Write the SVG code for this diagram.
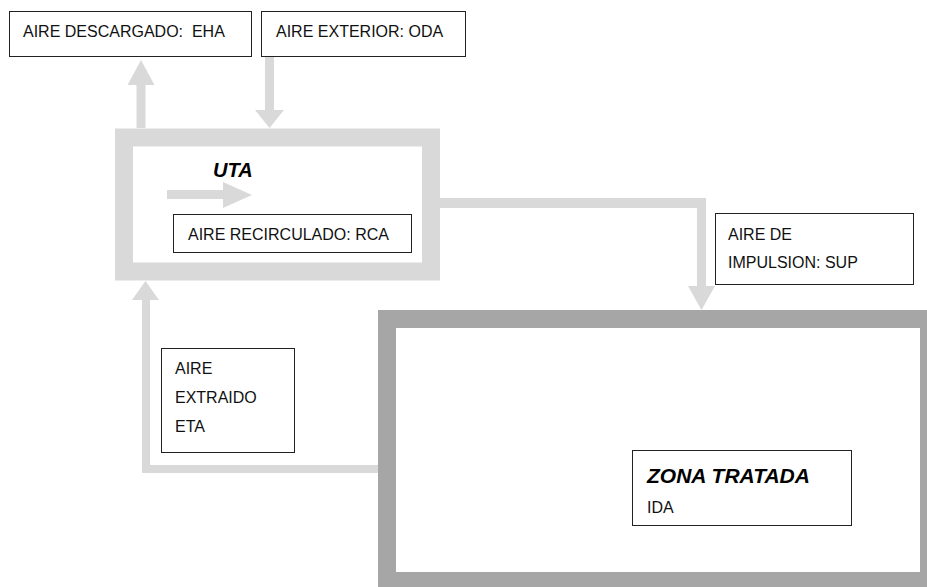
<svg xmlns="http://www.w3.org/2000/svg" width="927" height="587" viewBox="0 0 927 587">
<style>
.bg{fill:#ffffff}
.box{fill:#ffffff;stroke:#222222;stroke-width:1}
.t{font-family:"Liberation Sans",Arial,sans-serif;font-size:16px;fill:#111111;white-space:pre}
.h{font-family:"Liberation Sans",Arial,sans-serif;font-size:20px;font-weight:bold;font-style:italic;fill:#000000}
.flow{fill:#d9d9d9;stroke:none}
.uta{fill:none;stroke:#d9d9d9;stroke-width:18}
.zona{fill:none;stroke:#a6a6a6;stroke-width:18}
</style>
<rect class="bg" x="0" y="0" width="927" height="587"/>
<g id="connectors">
<polygon class="flow" points="136.5,128 136.5,85 127.5,85 141,60 154.5,85 145.5,85 145.5,128"/>
<polygon class="flow" points="265,57 274,57 274,110 284,110 269.5,128 255,110 265,110"/>
<polygon class="flow" points="431,198 706,198 706,286 715,286 701.5,310 688,286 697,286 697,208 431,208"/>
<polygon class="flow" points="387,465 150,465 150,300 159,300 145.5,281 132,300 142,300 142,473 387,473"/>
</g>
<g id="uta">
<rect class="uta" x="124" y="137.5" width="307" height="134"/>
<text class="h" x="213" y="177">UTA</text>
<polygon class="flow" points="167,190 223,190 223,182 252,195 223,208 223,199 167,199"/>
</g>
<g id="zona">
<rect class="zona" x="387" y="319" width="542" height="262"/>
</g>
<g id="eha">
<rect class="box" x="9.5" y="11.5" width="242" height="45"/>
<text class="t" x="23" y="37" xml:space="preserve">AIRE DESCARGADO:  EHA</text>
</g>
<g id="oda">
<rect class="box" x="261.5" y="11.5" width="204" height="45"/>
<text class="t" x="276" y="37">AIRE EXTERIOR: ODA</text>
</g>
<g id="rca">
<rect class="box" x="173.5" y="214.5" width="238" height="38"/>
<text class="t" x="188" y="240">AIRE RECIRCULADO: RCA</text>
</g>
<g id="sup">
<rect class="box" x="715.5" y="213.5" width="198" height="71"/>
<text class="t" x="728" y="240">AIRE DE</text>
<text class="t" x="728" y="268">IMPULSION: SUP</text>
</g>
<g id="eta">
<rect class="box" x="161.5" y="348.5" width="133" height="104"/>
<text class="t" x="175" y="374">AIRE</text>
<text class="t" x="175" y="403">EXTRAIDO</text>
<text class="t" x="175" y="432">ETA</text>
</g>
<g id="ida">
<rect class="box" x="632.5" y="450.5" width="219" height="75"/>
<text class="h" x="647" y="483" style="font-size:21px">ZONA TRATADA</text>
<text class="t" x="647" y="513">IDA</text>
</g>
</svg>
